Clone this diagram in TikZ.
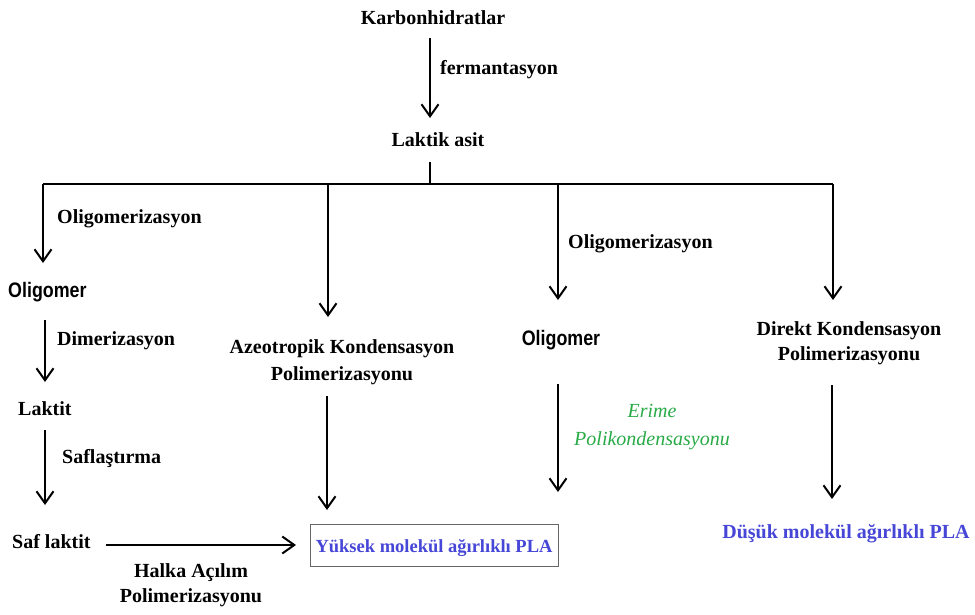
\documentclass[tikz,border=0pt]{standalone}
\usepackage{fontspec}
\setmainfont{Liberation Serif}
\newfontfamily\osans[FakeStretch=0.85]{Liberation Sans}
\usetikzlibrary{arrows.meta}
\definecolor{plablue}{RGB}{70,70,215}
\definecolor{erigreen}{RGB}{40,170,70}
\tikzset{
  lbl/.style={font=\fontsize{20}{26}\selectfont\bfseries, inner sep=0pt, anchor=base},
  lbll/.style={lbl, anchor=base west},
  olig/.style={font=\fontsize{21}{26}\selectfont\osans\bfseries, inner sep=0pt, anchor=base west},
  arr/.style={line width=2pt, -{Straight Barb[length=12pt,width=17pt,line width=2pt]}},
  ln/.style={line width=2pt},
}
\begin{document}
\begin{tikzpicture}[x=1pt,y=-1pt]
\useasboundingbox (0,0) rectangle (975,615);
% texts
\node[lbl] (karb) at (433,25) {Karbonhidratlar};
\node[lbll] (ferm) at (440,75) {fermantasyon};
\node[lbl] (laktik) at (438,147) {Laktik asit};
\node[lbll] (olz1) at (57,223) {Oligomerizasyon};
\node[olig] (olig1) at (8,297) {Oligomer};
\node[lbll] (dim) at (57,345) {Dimerizasyon};
\node[lbll] (laktit) at (18,415) {Laktit};
\node[lbll] (safl) at (62,463) {Saflaştırma};
\node[lbll] (saf) at (12,548) {Saf laktit};
\node[lbl, align=center, font=\fontsize{20}{25}\selectfont\bfseries] (halka) at (191,602) {Halka Açılım\\Polimerizasyonu};
\node[lbl, align=center, font=\fontsize{20}{27}\selectfont\bfseries] (azeo) at (342,380) {Azeotropik Kondensasyon\\Polimerizasyonu};
\node[lbll] (olz2) at (568,248) {Oligomerizasyon};
\node[olig, anchor=base] (olig2) at (561,345) {Oligomer};
\node[lbl, align=center, font=\fontsize{20}{28}\selectfont\itshape, text=erigreen] (erime) at (652,445) {Erime\\Polikondensasyonu};
\node[lbl, align=center, font=\fontsize{20}{25}\selectfont\bfseries] (direkt) at (849,360) {Direkt Kondensasyon\\Polimerizasyonu};
\node[lbl, text=plablue, font=\fontsize{18.5}{24}\selectfont\bfseries] (yuksek) at (434,552) {Yüksek molekül ağırlıklı PLA};
\node[draw=black!60, line width=0.9pt, minimum width=248pt, minimum height=42pt, inner sep=0pt] (box) at (434,545) {};
\node[lbl, text=plablue] (dusuk) at (846,538) {Düşük molekül ağırlıklı PLA};
% coordinates
\coordinate (f1) at (430,38);
\coordinate (f2) at (430,118);
\coordinate (s1) at (430,162);
\coordinate (s2) at (430,184);
\coordinate (jL) at (43,184);
\coordinate (jA) at (328,184);
\coordinate (jO) at (558,184);
\coordinate (jR) at (833,184);
\coordinate (tL) at (43,263);
\coordinate (tA) at (328,317);
\coordinate (tO) at (558,300);
\coordinate (tR) at (833,300);
\coordinate (d1) at (45,320);
\coordinate (d2) at (45,382);
\coordinate (p1) at (45,430);
\coordinate (p2) at (45,505);
\coordinate (a1) at (327,396);
\coordinate (a2) at (327,510);
\coordinate (e1) at (558,384);
\coordinate (e2) at (558,492);
\coordinate (r1) at (832,385);
\coordinate (r2) at (832,499);
\coordinate (h1) at (106,545);
\coordinate (h2) at (296,545);
% connectors
\draw[arr] (f1) -- (f2);
\draw[ln] (s1) -- (s2);
\draw[ln] (jL) -- (jR);
\draw[arr] (jL) -- (tL);
\draw[arr] (jA) -- (tA);
\draw[arr] (jO) -- (tO);
\draw[arr] (jR) -- (tR);
\draw[arr] (d1) -- (d2);
\draw[arr] (p1) -- (p2);
\draw[arr] (a1) -- (a2);
\draw[arr] (e1) -- (e2);
\draw[arr] (r1) -- (r2);
\draw[arr] (h1) -- (h2);
\end{tikzpicture}
\end{document}
